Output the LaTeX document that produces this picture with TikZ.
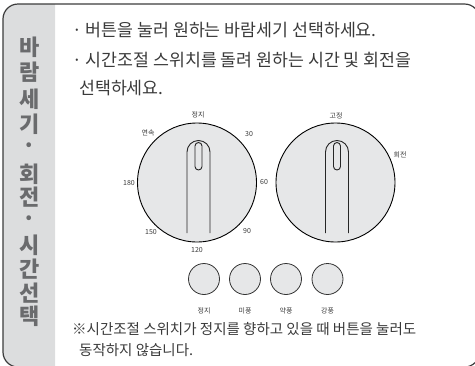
\documentclass[tikz,border=0pt]{standalone}
\usepackage{fontspec}
\setmainfont{Noto Sans CJK KR}
\definecolor{frame}{HTML}{3C3C3C}
\definecolor{strip}{HTML}{DCDDDE}
\definecolor{striptext}{HTML}{6A6B6D}
\definecolor{maintext}{HTML}{3A3A3A}
\definecolor{dialfill}{HTML}{E6E7E8}
\tikzset{
  body/.style={anchor=west, inner sep=0pt, text=maintext, font=\fontsize{17.3}{18}\selectfont},
  note/.style={anchor=west, inner sep=0pt, text=maintext, font=\fontsize{14.5}{16}\selectfont},
  side/.style={inner sep=0pt, text=striptext, font=\fontsize{22}{24}\selectfont\bfseries},
  small/.style={inner sep=0pt, text=maintext, font=\fontsize{7}{8}\selectfont},
  dial/.style={circle, draw=black, line width=0.9pt, fill=dialfill, minimum size=119pt, inner sep=0pt},
  btn/.style={circle, draw=black!80, line width=0.8pt, fill=dialfill, minimum size=31pt, inner sep=0pt},
  handle/.style={draw=black!85, line width=0.9pt}
}
\begin{document}
\begin{tikzpicture}[x=1pt,y=-1pt]
\useasboundingbox (0,0) rectangle (475,365);
\begin{scope}
\clip (0,0) rectangle (475,365);
% strip
\fill[strip] (55,4) -- (18,4) arc[start angle=270,end angle=180,radius=15] -- (3,352) arc[start angle=180,end angle=90,radius=15] -- (55,367) -- cycle;
% frame
\draw[frame, line width=1.2pt, rounded corners=15pt] (3,4) rectangle (479.5,367);
\end{scope}
% side text
\foreach \t/\y [count=\i] in {바/47,람/72,세/99,기/124,·/148,회/174,전/197,·/221,시/245,간/269,선/293,택/316}
  \node[side] (s\i) at (29.5,\y) {\t};
% body text
\node[body] (l1) at (72,30) {· 버튼을 눌러 원하는 바람세기 선택하세요.};
\node[body] (l2) at (72,60) {· 시간조절 스위치를 돌려 원하는 시간 및 회전을};
\node[body] (l3) at (79,88) {선택하세요.};
% dials
\node[dial] (d1) at (197,182.5) {};
\node[dial] (d2) at (335.5,182.5) {};
% handles
\foreach \hx in {198.5,337}{
  \draw[handle] (\hx-11.5,233) -- (\hx-11.5,152) arc[start angle=180,end angle=360,radius=11.5] -- (\hx+11.5,233);
  \draw[handle] (\hx-3.5,146) -- (\hx-3.5,166.5) arc[start angle=180,end angle=0,radius=3.5] -- (\hx+3.5,146) arc[start angle=0,end angle=-180,radius=3.5];
}
% dial labels
\node[small] (t0) at (198,115) {정지};
\node[small] (t1) at (148,133) {연속};
\node[small] (t2) at (249,134) {30};
\node[small] (t3) at (264,182) {60};
\node[small] (t4) at (247,231) {90};
\node[small] (t5) at (197,250) {120};
\node[small] (t6) at (151,232) {150};
\node[small] (t7) at (129,183) {180};
\node[small] (r0) at (336,116) {고정};
\node[small] (r1) at (400,155) {회전};
% buttons
\node[btn] (b1) at (204,279) {};
\node[btn] (b2) at (245,279) {};
\node[btn] (b3) at (286,279) {};
\node[btn] (b4) at (327.5,279) {};
\node[small] (bl1) at (b1.center |- 0,311) {정지};
\node[small] (bl2) at (b2.center |- 0,311) {미풍};
\node[small] (bl3) at (b3.center |- 0,311) {약풍};
\node[small] (bl4) at (b4.center |- 0,311) {강풍};
% note
\node[note] (n1) at (72,329) {※시간조절 스위치가 정지를 향하고 있을 때 버튼을 눌러도};
\node[note] (n2) at (79,350) {동작하지 않습니다.};
\end{tikzpicture}
\end{document}
